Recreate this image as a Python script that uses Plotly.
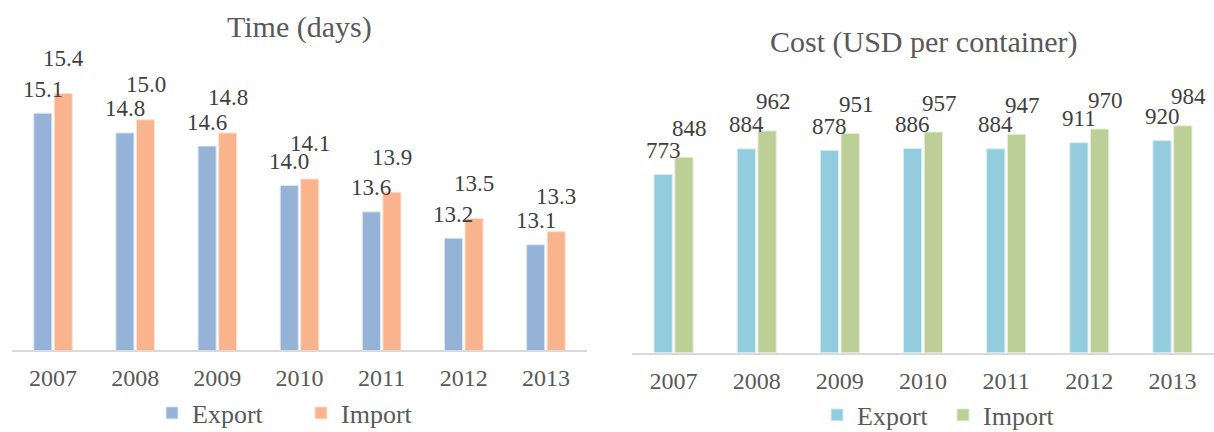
import plotly.graph_objects as go

years = ["2007", "2008", "2009", "2010", "2011", "2012", "2013"]
time_export = [15.1, 14.8, 14.6, 14.0, 13.6, 13.2, 13.1]
time_import = [15.4, 15.0, 14.8, 14.1, 13.9, 13.5, 13.3]
cost_export = [773, 884, 878, 886, 884, 911, 920]
cost_import = [848, 962, 951, 957, 947, 970, 984]

W, H = 1214, 432
FONT = "Liberation Serif"
TXT = "#404040"
GREY = "#595959"

fig = go.Figure()
fig.add_trace(go.Bar(x=years, y=time_export, name="Export", xaxis="x", yaxis="y",
                     marker=dict(color="#95B3D7", line=dict(color="#DCE6F2", width=1)),
                     legend="legend"))
fig.add_trace(go.Bar(x=years, y=time_import, name="Import", xaxis="x", yaxis="y",
                     marker=dict(color="#F9B48E", line=dict(color="#FDE3D3", width=1)),
                     legend="legend"))
fig.add_trace(go.Bar(x=years, y=cost_export, name="Export", xaxis="x2", yaxis="y2",
                     marker=dict(color="#93CDDD", line=dict(color="#DAEEF3", width=1)),
                     legend="legend2"))
fig.add_trace(go.Bar(x=years, y=cost_import, name="Import", xaxis="x2", yaxis="y2",
                     marker=dict(color="#BBCF96", line=dict(color="#E6EEDA", width=1)),
                     legend="legend2"))

# data labels, lifted above the bars like in the original
# (x given as category index so the year strings are not read as numbers)
ann = []
panels = [("x", "y", time_export, time_import, "{:.1f}", 24, 35, 0),
          ("x2", "y2", cost_export, cost_import, "{:d}", 24, 29, 6)]
for xr, yr, exp, imp, fmt, up_e, up_i, dx_i in panels:
    for k, (e, i) in enumerate(zip(exp, imp)):
        ann.append(dict(x=k, y=e, xref=xr, yref=yr, text=fmt.format(e), showarrow=False,
                        xanchor="center", yanchor="middle",
                        xshift=-10.4, yshift=up_e, font=dict(family=FONT, size=23, color=TXT)))
        ann.append(dict(x=k, y=i, xref=xr, yref=yr, text=fmt.format(i), showarrow=False,
                        xanchor="center", yanchor="middle",
                        xshift=10.4 + dx_i, yshift=up_i, font=dict(family=FONT, size=23, color=TXT)))

ann.append(dict(text="Time (days)", xref="x domain", x=0.5, yref="paper", y=(H - 27) / H,
                xanchor="center", yanchor="middle",
                showarrow=False, font=dict(family=FONT, size=30, color=GREY)))
ann.append(dict(text="Cost (USD per container)", xref="x2 domain", x=0.5, yref="paper", y=(H - 42) / H,
                xanchor="center", yanchor="middle",
                showarrow=False, font=dict(family=FONT, size=30, color=GREY)))

xax = dict(type="category", range=[-0.5, len(years) - 0.5], showline=True, linecolor="#D9D9D9",
           linewidth=2, showgrid=False, ticks="", tickfont=dict(family=FONT, size=24, color=GREY),
           ticklabelstandoff=5)

fig.update_layout(
    width=W, height=H,
    margin=dict(l=0, r=0, t=0, b=0, autoexpand=False),
    paper_bgcolor="white", plot_bgcolor="white",
    barmode="group", bargap=0.5, bargroupgap=0.12,
    xaxis=dict(xax, domain=[12 / W, 587 / W], anchor="y"),
    yaxis=dict(domain=[(H - 350) / H, (H - 54) / H], range=[11.5, 16], visible=False, anchor="x"),
    xaxis2=dict(xax, domain=[632 / W, 1.0], anchor="y2"),
    yaxis2=dict(domain=[(H - 352.7) / H, (H - 76) / H], range=[0, 1200], visible=False, anchor="x2"),
    legend=dict(orientation="h", x=152 / W, xanchor="left", y=(H - 413) / H, yanchor="middle",
                font=dict(family=FONT, size=26, color=GREY), entrywidth=104, entrywidthmode="pixels",
                bgcolor="rgba(0,0,0,0)"),
    legend2=dict(orientation="h", x=817 / W, xanchor="left", y=(H - 415) / H, yanchor="middle",
                 font=dict(family=FONT, size=26, color=GREY), entrywidth=81, entrywidthmode="pixels",
                 bgcolor="rgba(0,0,0,0)"),
    annotations=ann,
)

fig.write_html("out.html", config={"displayModeBar": False},
               post_script="document.body.style.margin='0';")
